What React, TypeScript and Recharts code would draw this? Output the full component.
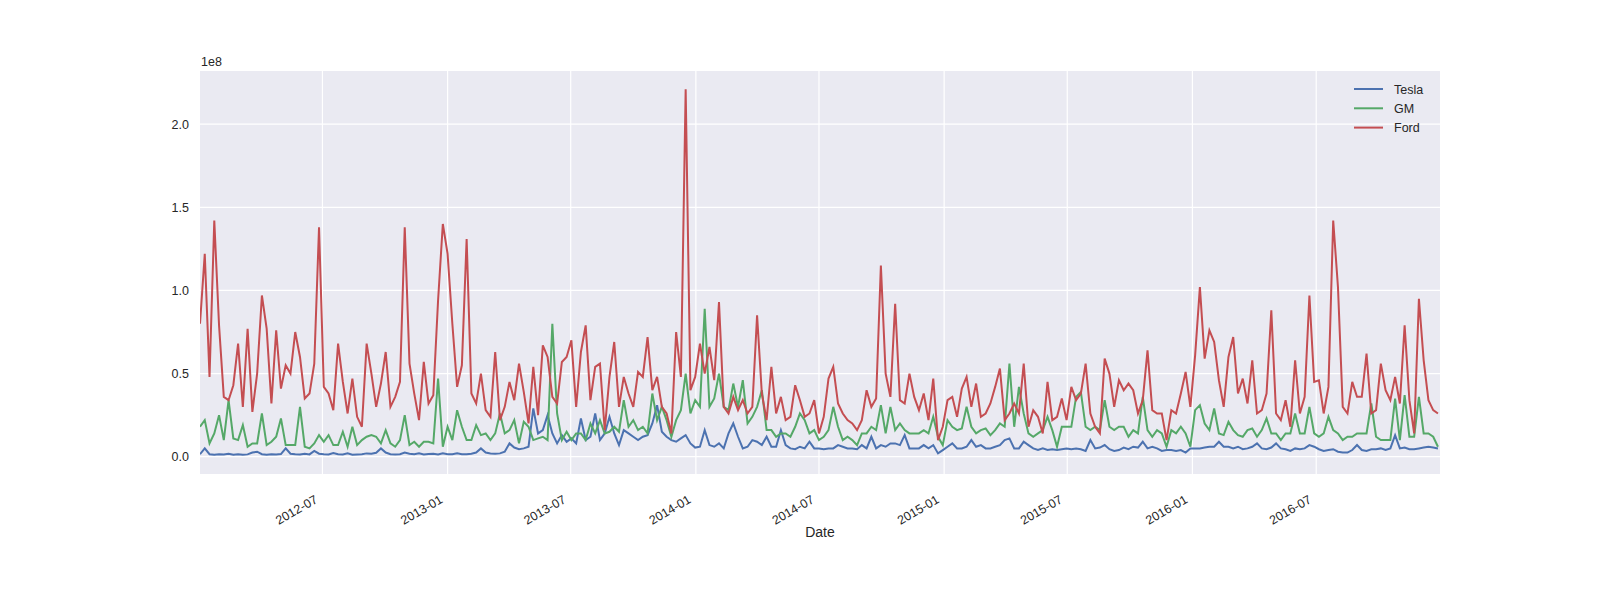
import { LineChart, Line, XAxis, YAxis, CartesianGrid, Customized } from 'recharts';

// weekly trading volume, in millions of shares
const firstWeek = '2012-01-03';
const lastDay = '2016-12-30';

const teslaVol = [
  1.5, 5, 1.5, 1.2, 1.5, 1.3, 1.8, 1.2, 1.5, 1.2, 1.4, 2.5, 3, 1.5, 1.2, 1.5, 1.3, 1.6, 5, 1.8,
  1.5, 1.3, 1.8, 1.4, 3.5, 1.8, 1.5, 1.3, 2.2, 1.5, 1.3, 2, 1.2, 1.4, 1.5, 2, 1.8, 2.4, 5, 2.5,
  1.5, 1.3, 1.5, 2.5, 1.8, 1.5, 2, 1.4, 1.6, 1.8, 1.3, 2, 1.5,
  1.5, 2, 1.5, 1.5, 1.8, 2.5, 5, 2.5, 2, 1.8, 2, 3, 8, 5.5, 4.5, 5, 6, 29, 14, 16,
  25, 14, 8, 13, 9, 11, 8, 23, 10, 12, 26, 10, 14, 24, 14, 7, 16, 14, 12, 10,
  12, 13, 20, 31, 15, 12, 10, 9, 11, 13, 8, 5.5,
  6, 16, 7, 6, 8, 5, 14, 20, 12, 5, 6, 10, 9, 7, 12, 6, 6, 16, 7, 5,
  4.5, 6, 5, 9, 5, 5, 4.5, 5, 5, 7, 6, 5, 5, 4.5, 7, 5, 12, 5, 7, 6,
  8, 8, 7, 13, 5, 5, 5, 7, 5, 7, 2, 4,
  6, 8, 5, 5, 6, 10, 6, 7, 5, 5, 6, 7, 10, 11, 5, 5, 9, 7, 5, 4,
  5, 4, 4.5, 4, 4.5, 5, 4.5, 5, 4.5, 3.5, 10, 5, 5.5, 7, 4.5, 3.5, 4, 5.5, 4.5, 6,
  5.5, 9, 5, 6, 5, 3.5, 4, 4, 3.5, 4, 2.5, 5,
  5, 5, 5.5, 6, 6, 9, 6, 6, 5, 6, 4.5, 5, 6, 8, 5, 4.5, 5.5, 8, 5, 4.5,
  3.5, 5, 4.5, 5, 7, 6, 4.5, 3.5, 4, 4.5, 3, 2.5, 2.5, 4, 7, 4, 3.5, 4.5, 4.5, 5,
  4, 5, 13, 5, 5.5, 4.5, 4.5, 5, 5.5, 6, 5.5, 5,
];

const gmVol = [
  18, 22, 8, 14, 25, 10, 34, 11, 10, 19, 6, 8, 8, 26, 7, 9, 12, 23, 7, 7,
  7, 30, 6, 5, 8, 13, 9, 13, 7, 7, 15, 6, 18, 7, 10, 12, 13, 12, 8, 16,
  8, 6, 10, 25, 7, 9, 6, 9, 9, 8, 47, 6, 18,
  10, 28, 18, 10, 10, 19, 13, 14, 10, 14, 26, 14, 16, 22, 8, 21, 18, 10, 11, 12,
  10, 80, 26, 10, 15, 10, 14, 14, 10, 20, 14, 22, 14, 15, 18, 15, 34, 18, 22, 16,
  18, 14, 38, 22, 30, 22, 12, 22, 28, 50, 26, 34,
  30, 89, 30, 35, 50, 30, 28, 44, 30, 46, 20, 24, 30, 40, 16, 16, 12, 14, 14, 12,
  18, 26, 22, 14, 16, 10, 12, 16, 30, 18, 10, 12, 10, 7, 14, 14, 18, 16, 31, 14,
  30, 16, 20, 16, 14, 14, 14, 16, 14, 24, 12, 7,
  22, 18, 16, 17, 30, 18, 14, 16, 17, 13, 16, 20, 18, 56, 18, 42, 26, 14, 12, 14,
  16, 24, 16, 6, 18, 18, 18, 36, 39, 18, 16, 18, 16, 34, 18, 16, 18, 18, 12, 16,
  14, 36, 16, 12, 16, 14, 6, 16, 14, 18, 14, 6,
  28, 31, 20, 16, 29, 14, 13, 21, 16, 13, 12, 16, 17, 12, 16, 23, 14, 14, 10, 14,
  14, 26, 14, 14, 30, 14, 12, 14, 24, 16, 14, 10, 12, 12, 14, 14, 14, 32, 12, 10,
  10, 10, 35, 10, 37, 12, 12, 36, 14, 14, 12, 6,
];

const fordVol = [
  80, 122, 48, 142, 79, 36, 34, 43, 68, 30, 77, 27, 50, 97, 77, 32, 76, 41, 55, 50,
  75, 60, 35, 38, 56, 138, 42, 38, 28, 68, 45, 26, 47, 24, 18, 68, 50, 30, 44, 63,
  30, 36, 45, 138, 56, 38, 22, 57, 32, 37, 94, 140, 122,
  80, 42, 55, 131, 38, 32, 50, 28, 24, 63, 22, 30, 45, 34, 56, 39, 20, 54, 25, 67,
  60, 36, 32, 57, 60, 70, 30, 63, 79, 34, 54, 56, 16, 48, 69, 30, 48, 38, 30, 51,
  48, 72, 40, 48, 30, 26, 14, 75, 48, 221, 40, 48,
  68, 50, 66, 46, 93, 30, 26, 36, 28, 34, 26, 30, 85, 38, 22, 54, 26, 36, 22, 24,
  43, 34, 24, 26, 34, 14, 24, 47, 54, 32, 26, 22, 20, 16, 22, 40, 30, 35, 115, 50,
  36, 92, 34, 32, 50, 36, 28, 38, 22, 47, 10, 18,
  34, 36, 24, 41, 48, 30, 44, 24, 26, 32, 42, 53, 22, 26, 32, 26, 56, 18, 28, 24,
  14, 45, 22, 24, 35, 22, 42, 34, 38, 56, 26, 18, 14, 59, 50, 30, 46, 40, 44, 40,
  26, 34, 64, 28, 26, 26, 10, 28, 26, 38, 51, 30,
  61, 102, 59, 76, 69, 46, 30, 60, 72, 38, 47, 32, 58, 26, 28, 38, 88, 26, 22, 34,
  18, 58, 26, 36, 97, 45, 46, 26, 42, 142, 102, 30, 26, 45, 36, 36, 62, 26, 28, 56,
  40, 34, 48, 32, 79, 34, 14, 95, 58, 34, 28, 26,
];

const xTickDates = [
  '2012-07-01', '2013-01-01', '2013-07-01', '2014-01-01', '2014-07-01',
  '2015-01-01', '2015-07-01', '2016-01-01', '2016-07-01',
];
const yTicks = [0, 50, 100, 150, 200];

const series = [
  { key: 'tesla', name: 'Tesla', color: '#4C72B0' },
  { key: 'gm', name: 'GM', color: '#55A868' },
  { key: 'ford', name: 'Ford', color: '#C44E52' },
];

const DAY = 86400000;
const t0 = Date.parse(firstWeek);
const chartData = fordVol.map((ford, i) => ({
  t: t0 + i * 7 * DAY,
  tesla: teslaVol[i],
  gm: gmVol[i],
  ford,
}));
const xTicks = xTickDates.map((d) => Date.parse(d));

const FONT = '"Liberation Sans", Arial, sans-serif';
const TEXT = '#262626';

function DateTick({ x, y, payload }: any) {
  const d = new Date(payload.value);
  const label = `${d.getUTCFullYear()}-${String(d.getUTCMonth() + 1).padStart(2, '0')}`;
  const ax = x - 4;
  const ay = y + 26;
  return (
    <text
      x={ax}
      y={ay}
      textAnchor="end"
      fontSize={12.5}
      fontFamily={FONT}
      fill={TEXT}
      transform={`rotate(-30, ${ax}, ${ay})`}
    >
      {label}
    </text>
  );
}

function Extras() {
  return (
    <g fontFamily={FONT} fill={TEXT}>
      <text x={201} y={66} fontSize={12.5}>1e8</text>
      {series.map((s, i) => (
        <g key={s.key}>
          <line x1={1354} x2={1383} y1={89 + i * 19.3} y2={89 + i * 19.3} stroke={s.color} strokeWidth={2} />
          <text x={1394} y={93.5 + i * 19.3} fontSize={12.5}>{s.name}</text>
        </g>
      ))}
    </g>
  );
}

export default function App() {
  return (
    <div style={{ position: 'absolute', left: 0, top: 0, width: 1600, height: 594, background: '#fff' }}>
      <LineChart
        width={1600}
        height={594}
        data={chartData}
        margin={{ top: 71, right: 160, bottom: 30, left: 0 }}
      >
        <CartesianGrid fill="#EAEAF2" stroke="#ffffff" strokeWidth={1.2} horizontalValues={yTicks} verticalValues={xTicks} />
        <XAxis
          dataKey="t"
          type="number"
          scale="time"
          domain={[t0, Date.parse(lastDay)]}
          ticks={xTicks}
          tick={<DateTick />}
          tickLine={false}
          axisLine={false}
          tickSize={0}
          height={90}
          allowDataOverflow
          label={{ value: 'Date', position: 'insideTop', offset: 53, fontSize: 14, fill: TEXT, fontFamily: FONT }}
        />
        <YAxis
          type="number"
          domain={[-10.4, 232]}
          ticks={yTicks}
          tickFormatter={(v: number) => (v / 100).toFixed(1)}
          width={200}
          tickLine={false}
          axisLine={false}
          tickSize={0}
          tickMargin={11}
          allowDataOverflow
          tick={{ fontSize: 12.5, fill: TEXT, fontFamily: FONT }}
        />
        {series.map((s) => (
          <Line
            key={s.key}
            type="linear"
            dataKey={s.key}
            name={s.name}
            stroke={s.color}
            strokeWidth={2}
            dot={false}
            isAnimationActive={false}
          />
        ))}
        <Customized component={Extras} />
      </LineChart>
    </div>
  );
}
